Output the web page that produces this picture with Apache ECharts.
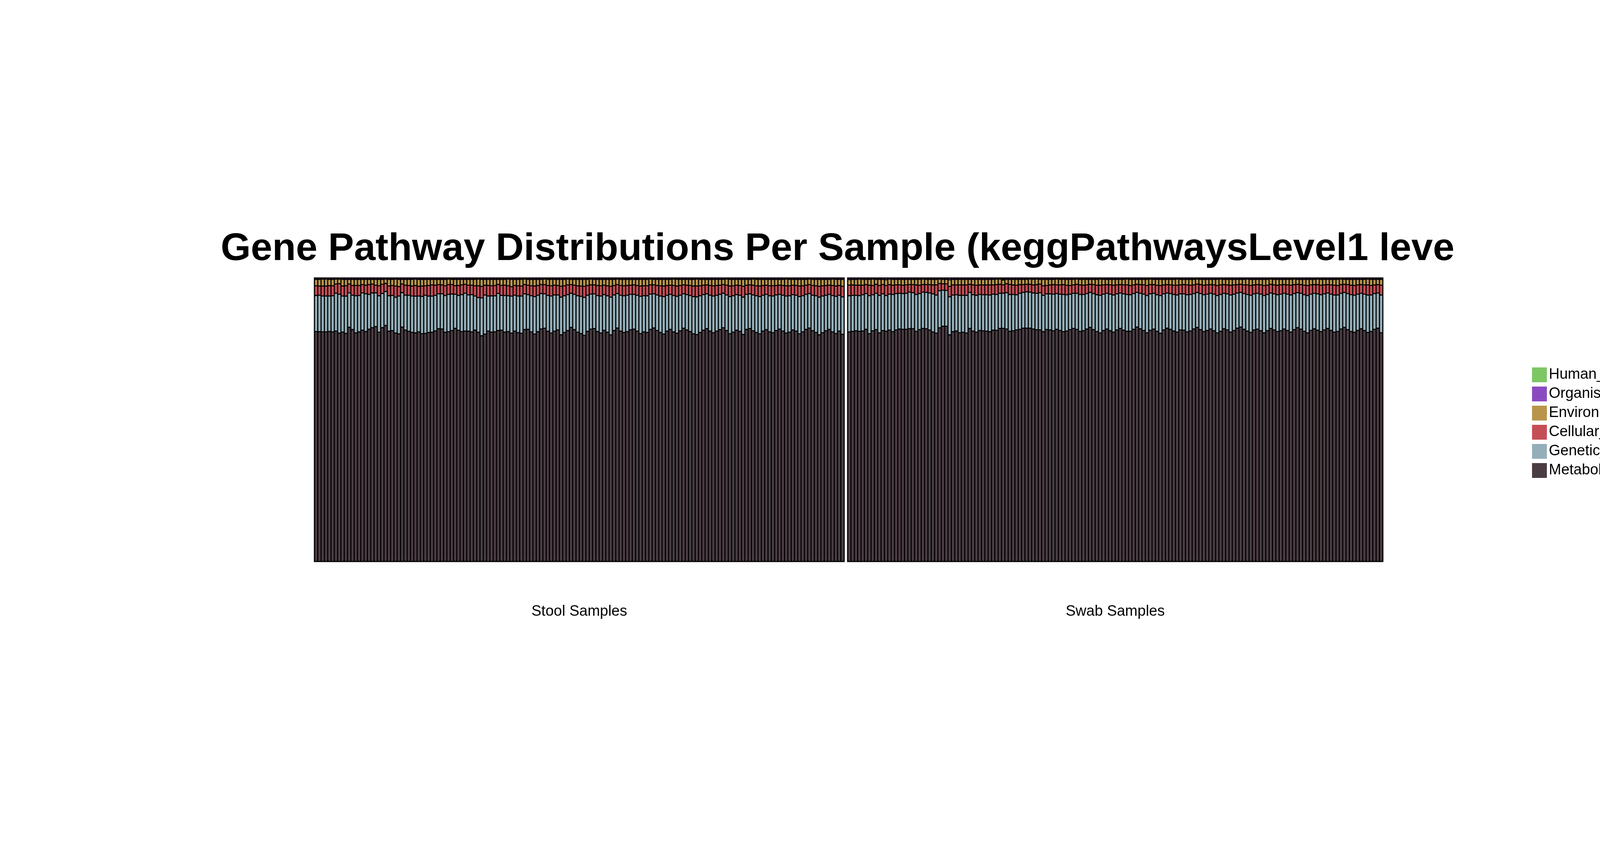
<!DOCTYPE html>
<html>
<head>
<meta charset="utf-8">
<script src="https://cdn.jsdelivr.net/npm/echarts@6/dist/echarts.min.js"></script>
<style>html,body{margin:0;padding:0;background:#fff}#main{width:4800px;height:2200px}</style>
</head>
<body>
<div id="main"></div>
<script>
// pathway shares per sample (percent)
var pathways = ['Metabolism','Genetic_Information_Processing','Cellular_Processes','Environmental_Information_Processing','Organismal_Systems','Human_Diseases'];
var colors = ['#4a3c43','#94afb9','#c54e56','#b8954b','#8b4bc0','#7dc764'];
var panels = ['Stool Samples','Swab Samples'];

var stoolMet = [80.3,80.1,80.2,80.2,80.5,80.2,80.3,79.9,80.2,79.5,81.7,81.0,79.9,80.1,80.8,80.3,81.1,81.4,82.2,79.9,81.4,82.2,80.5,80.8,79.8,79.5,81.7,80.9,80.3,80.1,79.6,80.2,79.4,79.4,79.9,79.8,80.7,81.3,81.2,79.8,79.9,80.8,81.9,80.9,80.3,80.4,80.5,80.2,80.8,79.8,78.5,78.6,80.8,79.6,79.8,79.6,81.2,79.9,80.3,79.6,
 80.4,80.0,79.7,80.6,81.0,80.2,79.5,80.1,80.9,81.3,80.5,79.8,80.2,80.7,79.4,79.9,80.3,81.5,80.8,80.1,79.6,79.2,80.4,80.9,81.1,80.2,79.8,80.5,80.0,79.3,80.6,81.2,80.3,79.9,80.1,80.7,81.0,80.4,79.7,80.2,
 79.9,80.8,81.4,80.6,80.0,79.5,80.3,80.9,80.1,79.8,80.5,81.2,80.7,80.2,79.6,79.4,80.0,80.6,81.0,80.3,79.9,80.4,80.8,81.3,80.5,79.7,80.1,80.6,80.2,79.5,80.9,81.1,80.4,80.0,79.6,80.3,80.8,80.2,79.9,80.5,
 81.0,80.4,79.8,80.1,80.7,80.3,79.6,80.2,80.9,81.2,80.6,80.0,79.4,79.9,80.5,80.8,80.1,79.7,80.3,79.5];
var stoolGen = [12.6,12.7,12.5,12.5,12.4,12.6,13.2,13.6,12.6,13.0,12.0,12.0,13.0,12.7,13.0,13.2,12.2,12.1,11.8,12.7,11.9,11.8,12.4,12.3,12.5,13.2,12.0,12.2,12.6,12.7,12.8,12.5,13.0,13.3,12.7,12.6,12.4,12.2,12.3,12.8,13.0,12.8,12.0,12.2,12.9,13.2,12.7,13.0,11.9,12.1,13.2,13.5,12.3,12.6,12.5,12.8,12.2,12.7,12.5,12.9,
 12.5,12.8,13.0,12.4,12.1,12.6,13.1,12.7,12.3,12.0,12.5,12.9,12.6,12.2,13.2,12.8,12.5,11.9,12.3,12.7,13.0,13.3,12.6,12.2,12.1,12.6,12.9,12.4,12.7,13.2,12.4,12.0,12.5,12.8,12.7,12.3,12.1,12.5,13.0,12.6,
 12.8,12.3,11.9,12.4,12.7,13.1,12.5,12.2,12.7,12.9,12.4,12.0,12.3,12.6,13.0,13.2,12.8,12.4,12.1,12.5,12.8,12.5,12.3,12.0,12.4,13.0,12.7,12.4,12.6,13.1,12.2,12.1,12.5,12.8,13.0,12.5,12.3,12.6,12.8,12.4,
 12.1,12.5,12.9,12.7,12.3,12.5,13.0,12.6,12.2,12.0,12.4,12.8,13.2,12.8,12.4,12.2,12.7,13.0,12.5,13.1];
var stoolCel = [3.4,3.2,3.5,3.5,3.6,3.5,3.2,3.7,3.5,3.6,3.1,3.4,3.6,3.5,2.9,3.0,3.4,3.1,2.7,3.5,3.2,2.8,3.4,3.5,3.9,3.3,3.0,3.5,3.4,3.5,3.7,3.4,3.6,3.3,3.7,3.9,3.6,3.2,3.1,3.4,3.4,3.3,3.0,3.5,3.4,3.1,3.4,3.3,3.6,4.1,4.0,3.4,3.7,3.5,3.6,3.1,3.5,3.6,3.5,3.3,
 3.4,3.6,3.5,3.2,3.3,3.5,3.7,3.4,3.1,3.2,3.5,3.6,3.4,3.3,3.8,3.5,3.4,3.0,3.2,3.5,3.6,3.9,3.4,3.2,3.1,3.5,3.6,3.3,3.5,3.8,3.3,3.1,3.4,3.5,3.4,3.2,3.3,3.4,3.6,3.5,
 3.5,3.2,3.1,3.3,3.6,3.7,3.4,3.2,3.5,3.6,3.4,3.1,3.3,3.5,3.7,3.8,3.5,3.3,3.1,3.4,3.6,3.4,3.2,3.0,3.4,3.7,3.5,3.3,3.4,3.8,3.2,3.1,3.4,3.5,3.7,3.4,3.2,3.5,3.6,3.3,
 3.2,3.4,3.6,3.5,3.3,3.4,3.7,3.5,3.2,3.1,3.4,3.5,3.8,3.6,3.4,3.2,3.5,3.6,3.4,3.7];
var stoolEnv = [2.2,2.3,2.4,2.4,2.2,2.2,1.7,1.6,2.3,2.2,1.6,2.1,2.1,2.1,1.8,2.0,1.8,1.6,2.0,2.2,1.7,1.5,2.3,2.1,2.4,2.5,1.6,2.0,2.1,2.3,2.2,2.4,2.3,2.2,2.1,1.9,2.0,1.8,1.9,2.2,1.9,1.8,2.2,2.1,1.9,1.7,2.0,2.0,2.2,2.3,2.4,2.0,2.1,2.2,2.1,1.7,2.1,2.0,2.3,2.5,
 2.1,2.2,2.3,1.9,2.0,2.2,2.3,2.1,1.8,1.9,2.1,2.2,2.0,2.1,2.4,2.2,2.0,1.8,2.0,2.2,2.3,2.4,2.1,2.0,1.9,2.1,2.2,2.0,2.2,2.4,2.1,1.9,2.1,2.2,2.1,2.0,1.9,2.1,2.3,2.2,
 2.2,2.0,1.9,2.1,2.2,2.3,2.1,2.0,2.2,2.3,2.1,1.9,2.0,2.1,2.3,2.4,2.2,2.0,1.9,2.1,2.2,2.1,2.0,1.8,2.1,2.3,2.2,2.0,2.1,2.4,2.0,1.9,2.1,2.2,2.3,2.1,2.0,2.2,2.2,2.1,
 2.0,2.1,2.3,2.2,2.0,2.1,2.3,2.2,2.0,1.9,2.1,2.2,2.4,2.2,2.1,2.0,2.2,2.3,2.1,2.4];
var stoolOrg = [0.5,0.5,0.4,0.4,0.5,0.5,0.4,0.4,0.5,0.5,0.5,0.5,0.5,0.5,0.5,0.5,0.5,0.5,0.5,0.5,0.5,0.4,0.5,0.5,0.4,0.5,0.5,0.5,0.5,0.5,0.4,0.5,0.5,0.5,0.5,0.5,0.5,0.5,0.5,0.5,0.4,0.5,0.5,0.5,0.5,0.5,0.5,0.5,0.5,0.4,0.5,0.5,0.5,0.5,0.5,0.5,0.5,0.5,0.4,0.5,
 0.5,0.5,0.5,0.4,0.5,0.5,0.5,0.5,0.5,0.4,0.5,0.5,0.5,0.5,0.5,0.5,0.4,0.5,0.5,0.5,0.5,0.5,0.5,0.4,0.5,0.5,0.5,0.5,0.5,0.5,0.5,0.4,0.5,0.5,0.5,0.5,0.5,0.5,0.5,0.5,
 0.5,0.4,0.5,0.5,0.5,0.5,0.5,0.5,0.4,0.5,0.5,0.5,0.5,0.5,0.5,0.4,0.5,0.5,0.5,0.5,0.5,0.5,0.5,0.5,0.4,0.5,0.5,0.5,0.5,0.5,0.5,0.5,0.4,0.5,0.5,0.5,0.5,0.5,0.5,0.5,
 0.5,0.5,0.4,0.5,0.5,0.5,0.5,0.5,0.5,0.4,0.5,0.5,0.5,0.5,0.5,0.5,0.4,0.5,0.5,0.5];

var swabMet = [79.6,79.7,80.0,79.7,80.0,80.6,78.9,80.0,80.4,79.3,80.4,80.1,80.1,79.7,80.4,80.7,80.6,80.6,80.9,80.8,79.8,80.4,80.9,80.8,80.5,79.6,79.1,80.7,81.5,81.3,78.6,79.6,80.0,79.4,79.5,79.3,80.9,79.9,79.6,80.1,80.0,79.8,79.6,80.3,80.0,80.8,81.1,80.7,79.6,80.0,80.4,80.4,81.0,80.9,80.9,80.6,80.2,79.9,79.6,80.7,
 80.3,80.0,80.6,80.2,79.7,79.9,80.5,80.9,80.4,79.8,80.1,80.7,81.1,80.5,79.9,79.5,80.2,80.6,80.1,79.7,80.4,80.8,80.3,79.9,80.0,80.6,81.2,80.7,80.2,79.6,80.1,80.5,80.0,79.4,80.3,80.9,80.6,80.1,79.8,80.4,
 80.2,79.7,80.1,80.8,81.0,80.4,79.9,80.2,80.6,80.1,79.5,80.0,80.7,80.3,79.8,80.2,80.9,81.3,80.6,80.0,79.7,80.3,80.5,80.1,79.6,80.2,80.8,80.4,79.9,80.1,80.6,80.2,79.8,80.4,81.0,80.5,80.0,79.6,80.3,80.7,
 80.2,79.9,80.4,80.8,80.3,79.7,80.1,80.6,81.1,80.5,80.0,79.8,80.3,80.7,80.2,79.6,80.1,80.5,80.9,79.4];
var swabGen = [12.5,12.5,12.3,12.4,12.6,12.4,13.2,12.5,12.6,13.0,12.8,12.4,12.4,12.9,12.6,12.4,12.4,12.5,12.7,12.5,12.8,12.5,12.6,12.6,12.9,13.2,13.2,12.8,12.5,12.4,13.2,12.7,12.6,13.0,12.8,13.1,12.5,12.6,12.8,12.5,12.5,12.6,12.7,12.5,12.4,12.2,12.2,12.6,12.7,12.6,12.2,12.5,12.4,12.6,12.5,12.5,12.6,12.8,12.6,12.4,
 12.5,12.7,12.4,12.6,12.9,12.6,12.3,12.2,12.5,12.8,12.6,12.3,12.1,12.5,12.8,13.1,12.6,12.4,12.7,12.9,12.5,12.3,12.6,12.8,12.7,12.4,12.0,12.3,12.6,13.0,12.6,12.4,12.7,13.1,12.5,12.2,12.4,12.7,12.9,12.5,
 12.6,12.9,12.7,12.3,12.1,12.5,12.8,12.6,12.4,12.7,13.0,12.8,12.3,12.5,12.9,12.6,12.2,12.0,12.4,12.7,12.9,12.5,12.4,12.7,13.0,12.6,12.3,12.5,12.8,12.7,12.4,12.6,12.9,12.5,12.1,12.4,12.7,13.0,12.6,12.3,
 12.6,12.8,12.5,12.3,12.6,12.9,12.7,12.4,12.1,12.5,12.8,12.9,12.6,12.3,12.6,13.0,12.7,12.4,12.2,13.1];
var swabCel = [3.7,3.6,3.5,3.6,3.3,3.1,3.6,3.2,3.1,3.4,3.2,3.5,3.3,3.2,3.0,2.9,2.9,2.9,2.6,2.8,3.3,2.9,2.6,2.7,2.9,3.1,3.5,2.5,2.2,2.3,3.6,3.5,3.4,3.6,3.6,3.6,2.8,3.4,3.5,3.3,3.4,3.4,3.5,3.2,3.4,3.1,2.9,3.1,3.5,3.3,3.3,3.0,2.7,2.6,2.7,2.8,3.0,3.0,3.3,2.9,
 3.1,3.3,3.0,3.2,3.4,3.3,3.0,2.9,3.1,3.3,3.2,3.0,2.8,3.1,3.3,3.5,3.2,3.0,3.2,3.4,3.1,2.9,3.1,3.3,3.2,3.0,2.8,3.0,3.2,3.5,3.2,3.0,3.3,3.5,3.1,2.9,3.0,3.2,3.4,3.1,
 3.2,3.4,3.2,3.0,2.9,3.1,3.3,3.2,3.0,3.2,3.5,3.3,3.0,3.1,3.4,3.2,2.9,2.8,3.0,3.3,3.4,3.1,3.0,3.2,3.5,3.2,3.0,3.1,3.3,3.2,3.0,3.2,3.4,3.1,2.9,3.0,3.3,3.5,3.2,3.0,
 3.2,3.3,3.1,2.9,3.2,3.4,3.3,3.0,2.8,3.1,3.3,3.4,3.2,3.0,3.2,3.5,3.3,3.0,2.9,3.4];
var swabEnv = [1.9,1.9,2.0,2.1,2.0,1.8,2.0,2.2,1.7,2.1,1.8,2.0,1.9,2.0,1.9,1.9,2.0,1.9,1.8,1.8,1.9,2.0,1.9,1.8,1.8,1.9,1.9,1.5,1.5,1.5,2.3,1.9,1.9,1.9,1.9,1.9,1.7,1.9,2.0,1.9,1.9,1.9,1.9,1.9,1.9,1.8,1.7,1.5,1.7,1.9,2.0,1.8,1.8,1.7,1.8,1.9,1.9,1.6,2.2,2.1,
 1.9,1.8,2.0,1.9,1.8,2.0,2.1,1.9,1.8,1.9,2.0,1.9,1.7,1.8,2.0,2.1,1.9,1.8,1.9,2.0,1.9,1.8,1.9,2.0,2.1,1.9,1.7,1.8,1.9,2.1,1.9,1.8,2.0,2.1,1.9,1.8,1.9,2.0,2.1,1.9,
 1.8,1.9,2.0,1.9,1.7,1.8,2.0,1.9,1.8,1.9,2.1,2.0,1.8,1.9,2.0,1.9,1.8,1.7,1.9,2.0,2.1,1.9,1.8,1.9,2.1,2.0,1.8,1.9,2.0,1.9,1.8,1.9,2.0,1.9,1.7,1.8,2.0,2.1,1.9,1.8,
 1.9,2.0,1.9,1.8,1.9,2.0,2.1,1.9,1.7,1.8,2.0,2.1,1.9,1.8,1.9,2.0,2.1,1.9,1.8,2.0];
var swabOrg = [0.5,0.5,0.5,0.4,0.5,0.5,0.5,0.4,0.5,0.5,0.5,0.6,0.4,0.5,0.5,0.5,0.5,0.5,0.5,0.5,0.5,0.5,0.4,0.5,0.5,0.5,0.5,0.4,0.5,0.5,0.6,0.5,0.5,0.5,0.5,0.5,0.5,0.5,0.5,0.5,0.5,0.5,0.5,0.5,0.4,0.4,0.4,0.5,0.5,0.5,0.5,0.5,0.5,0.5,0.4,0.5,0.4,0.5,0.5,0.5,
 0.5,0.5,0.4,0.5,0.5,0.5,0.5,0.5,0.4,0.5,0.5,0.5,0.5,0.5,0.5,0.4,0.5,0.5,0.5,0.5,0.5,0.5,0.5,0.4,0.5,0.5,0.5,0.5,0.5,0.5,0.4,0.5,0.5,0.5,0.5,0.5,0.5,0.5,0.4,0.5,
 0.5,0.5,0.5,0.5,0.4,0.5,0.5,0.5,0.5,0.5,0.5,0.4,0.5,0.5,0.5,0.5,0.5,0.5,0.5,0.4,0.5,0.5,0.5,0.5,0.5,0.5,0.4,0.5,0.5,0.5,0.5,0.5,0.5,0.4,0.5,0.5,0.5,0.5,0.5,0.5,
 0.4,0.5,0.5,0.5,0.5,0.5,0.5,0.4,0.5,0.5,0.5,0.5,0.5,0.5,0.5,0.4,0.5,0.5,0.5,0.5];
var swabHum = [0.05,0,0,0,0,0,0,0,0,0,0,0,0,0,0,0,0,0,0,0,0,0,0,0,0,0,0,0,0,0,0,0,0,0,0,0,0,0,0,0,0,0,0,0,0,0,0.3,0,0,0,0,0,0,0,0,0,0,0,0,0];

var stool = [stoolMet, stoolGen, stoolCel, stoolEnv, stoolOrg, []];
var swab = [swabMet, swabGen, swabCel, swabEnv, swabOrg, swabHum];

// scale each sample's column so it fills 100%
function toPercent(sets) {
  var n = sets[0].length, out = sets.map(function(){ return []; });
  for (var i = 0; i < n; i++) {
    var tot = 0;
    sets.forEach(function(s){ tot += (s[i] || 0); });
    sets.forEach(function(s, k){ out[k].push((s[i] || 0) / tot * 100); });
  }
  return out;
}
var panelData = [toPercent(stool), toPercent(swab)];

var grids = [
  {left: 805, top: 712, width: 1356, height: 726},
  {left: 2170, top: 712, width: 1370, height: 726}
];
var xAxes = [], yAxes = [], series = [];
panelData.forEach(function(sets, g){
  grids[g].show = true;
  grids[g].backgroundColor = '#000';
  grids[g].borderColor = '#000';
  grids[g].borderWidth = 3;
  var cats = sets[0].map(function(v, i){ return panels[g] + ' ' + (i + 1); });
  xAxes.push({type: 'category', gridIndex: g, data: cats, axisLine: {show: false}, axisTick: {show: false}, axisLabel: {show: false},
    name: panels[g], nameLocation: 'middle', nameGap: 110, nameTextStyle: {color: '#000', fontSize: 38, fontFamily: 'Liberation Sans'}});
  yAxes.push({type: 'value', gridIndex: g, min: 0, max: 100, show: false, splitLine: {show: false}});
  sets.forEach(function(vals, k){
    series.push({
      name: pathways[k], type: 'bar', stack: 'p' + g, xAxisIndex: g, yAxisIndex: g,
      data: vals, barCategoryGap: '0%', itemStyle: {color: colors[k], borderColor: '#000', borderWidth: 1.4},
      animation: false
    });
  });
});

var chart = echarts.init(document.getElementById('main'));
chart.setOption({
  backgroundColor: '#fff',
  color: colors,
  title: {text: 'Gene Pathway Distributions Per Sample (keggPathwaysLevel1 level', left: 560, top: 584,
    textStyle: {fontSize: 99, fontWeight: 'bold', color: '#000', fontFamily: 'Liberation Sans', width: 3173, overflow: 'truncate', ellipsis: ''}},
  legend: {data: pathways.slice().reverse(), orient: 'vertical', left: 3917, top: 936, itemWidth: 38, itemHeight: 38, itemGap: 11,
    icon: 'rect', itemStyle: {borderWidth: 0}, textStyle: {fontSize: 38, color: '#000', fontFamily: 'Liberation Sans'}},
  grid: grids, xAxis: xAxes, yAxis: yAxes, series: series
});
</script>
</body>
</html>
